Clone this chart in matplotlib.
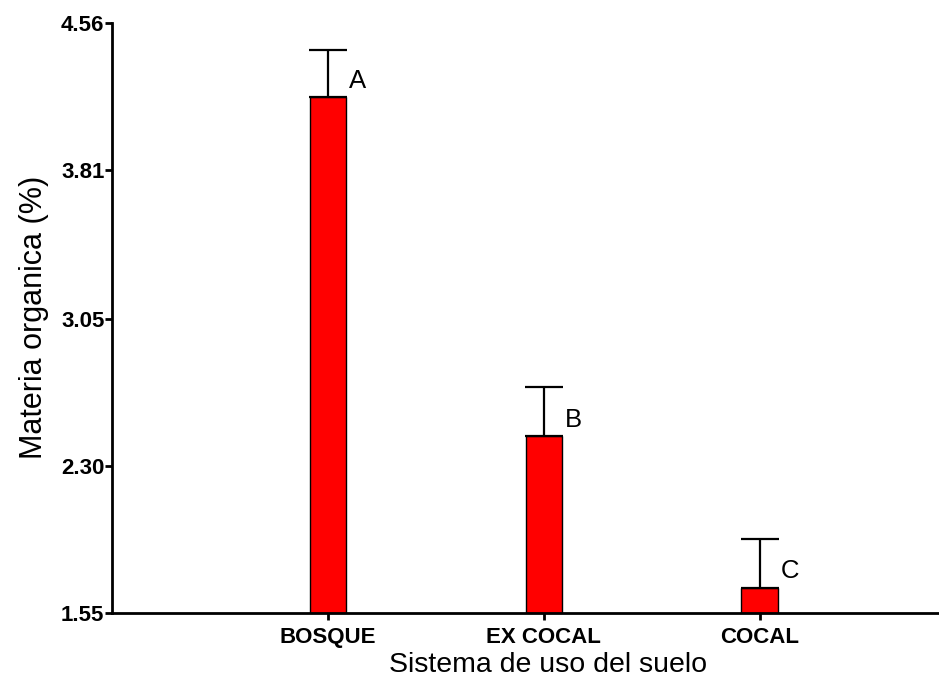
import numpy as np
import matplotlib.pyplot as plt

categories = ['BOSQUE', 'EX COCAL', 'COCAL']
means = [4.18, 2.45, 1.68]
errors = [0.24, 0.25, 0.245]
letters = ['A', 'B', 'C']
yticks = [1.55, 2.30, 3.05, 3.81, 4.56]

plt.rcParams['font.family'] = ['Liberation Sans', 'DejaVu Sans']

fig = plt.figure(figsize=(9.39, 6.86), dpi=100)
ax = fig.add_axes([0.1193, 0.1064, 0.8807, 0.8606])

x = np.arange(1, len(categories) + 1)
w = 0.17
ax.bar(x, means, width=w, color='#ff0000', edgecolor='black', linewidth=1.0,
       yerr=[np.zeros(len(errors)), errors], capsize=14,
       error_kw=dict(ecolor='black', elinewidth=1.6, capthick=1.6), zorder=2)

for xi, m, lab in zip(x, means, letters):
    ax.annotate(lab, xy=(xi + w / 2, m), xytext=(2, 12), textcoords='offset points',
                ha='left', va='center', fontsize=18.5)

ax.set_xlim(0, 3.83)
ax.set_ylim(1.55, 4.56)
ax.set_yticks(yticks)
ax.set_yticklabels(['%.2f' % t for t in yticks], fontsize=16, fontweight='bold')
ax.set_xticks(x)
ax.set_xticklabels(categories, fontsize=16, fontweight='bold')

ax.spines['top'].set_visible(False)
ax.spines['right'].set_visible(False)
ax.spines['left'].set_linewidth(2)
ax.spines['bottom'].set_linewidth(2)
ax.tick_params(axis='both', direction='out', length=5, width=2)
ax.tick_params(axis='y', pad=0.5)
ax.tick_params(axis='x', pad=5)

ax.set_xlabel('Sistema de uso del suelo', fontsize=20.5)
ax.xaxis.set_label_coords(0.527, -0.066)
ax.set_ylabel('Materia organica (%)', fontsize=22, labelpad=9)

fig.savefig('out.png', dpi=100)
